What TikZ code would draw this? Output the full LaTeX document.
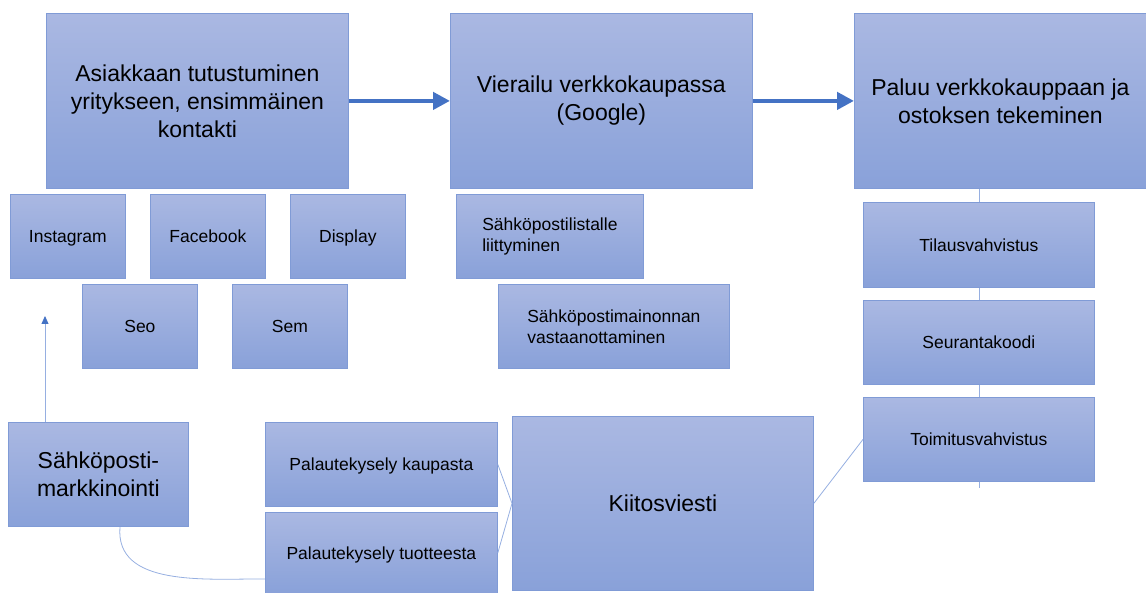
\documentclass[tikz,border=0pt]{standalone}
\usepackage{fontspec}
\setmainfont{Liberation Sans}
\usetikzlibrary{positioning,calc,arrows.meta}
\definecolor{boxtop}{RGB}{170,184,226}
\definecolor{boxbottom}{RGB}{137,161,217}
\definecolor{boxline}{RGB}{128,155,214}
\definecolor{linkblue}{RGB}{150,175,225}
\definecolor{arrowblue}{RGB}{68,114,196}

\begin{document}
\begin{tikzpicture}[x=1pt, y=-1pt,
        box/.style={draw=boxline, line width=0.8pt, top color=boxtop, bottom color=boxbottom,
            inner sep=0pt, anchor=north west, align=center},
        bigtext/.style={font=\fontsize{23}{28}\selectfont},
        smalltext/.style={font=\fontsize{17.5}{21}\selectfont},
        oneline/.style={text height=12.5pt, text depth=0pt},
        bigline/.style={text height=16.5pt, text depth=0pt},
        link/.style={draw=linkblue, line width=0.8pt},
        flow/.style={draw=arrowblue, line width=4.5pt, -{Triangle[length=17pt,width=17pt]}}]
        % Page size (1 pt = 1 px)
        \useasboundingbox (0,0) rectangle (1146,593);

        % Main steps of the customer path
        \node[box, bigtext, minimum width=302pt, minimum height=175pt] (tutustuminen) at (46,13)
            {Asiakkaan tutustuminen\\yritykseen, ensimmäinen\\kontakti};
        \node[box, bigtext, minimum width=302pt, minimum height=175pt] (vierailu) at (450,13)
            {Vierailu verkkokaupassa\\(Google)};
        \node[box, bigtext, minimum width=292pt, minimum height=175pt] (paluu) at (854,13)
            {Paluu verkkokauppaan ja\\ostoksen tekeminen};

        % Channels of the first contact
        \node[box, smalltext, oneline, minimum width=115pt, minimum height=84pt] (instagram) at (10,194) {Instagram};
        \node[box, smalltext, oneline, minimum width=115pt, minimum height=84pt] (facebook) at (150,194) {Facebook};
        \node[box, smalltext, oneline, minimum width=115pt, minimum height=84pt] (display) at (290,194) {Display};
        \node[box, smalltext, oneline, minimum width=115pt, minimum height=84pt] (seo) at (82,284) {Seo};
        \node[box, smalltext, oneline, minimum width=115pt, minimum height=84pt] (sem) at (232,284) {Sem};

        % Visit
        \node[box, smalltext, align=left, minimum width=187pt, minimum height=84pt] (liittyminen) at (456,194)
            {Sähköpostilistalle\\liittyminen};
        \node[box, smalltext, align=left, minimum width=231pt, minimum height=84pt] (mainonta) at (498,284)
            {Sähköpostimainonnan\\vastaanottaminen};

        % Purchase
        \node[box, smalltext, oneline, minimum width=231pt, minimum height=85pt] (tilaus) at (863,202) {Tilausvahvistus};
        \node[box, smalltext, oneline, minimum width=231pt, minimum height=84pt] (seuranta) at (863,300) {Seurantakoodi};
        \node[box, smalltext, oneline, minimum width=231pt, minimum height=84pt] (toimitus) at (863,397) {Toimitusvahvistus};

        % After the purchase
        \node[box, bigtext, minimum width=180pt, minimum height=104pt] (sposti) at (8,422)
            {Sähköposti-\\markkinointi};
        \node[box, smalltext, oneline, minimum width=232pt, minimum height=84pt] (kaupasta) at (265,422) {Palautekysely kaupasta};
        \node[box, smalltext, oneline, minimum width=232pt, minimum height=81pt] (tuotteesta) at (265,512) {Palautekysely tuotteesta};
        \node[box, bigtext, bigline, minimum width=301pt, minimum height=174pt] (kiitos) at (512,416) {Kiitosviesti};

        % Points used by the free ends
        \coordinate (upend) at ($(sposti.north west)+(37,-106)$);
        \coordinate (tail) at ($(toimitus.south)+(0,6)$);

        \draw[flow] (tutustuminen.east) -- (vierailu.west);
        \draw[flow] (vierailu.east) -- (paluu.west);

        \begin{scope}[link]
            \draw (tilaus.north |- paluu.south) -- (tilaus.north);
            \draw (tilaus.south) -- (seuranta.north);
            \draw (seuranta.south) -- (toimitus.north);
            \draw (toimitus.south) -- (tail);
            \draw (kiitos.east) -- (toimitus.west);
            \draw (kaupasta.east) -- (kiitos.west);
            \draw (tuotteesta.east) -- (kiitos.west);
            \draw ($(sposti.south west)+(112,0)$) to[out=-95, in=180] ($(tuotteesta.west)+(0,26)$);
            \draw[-{Triangle[length=8pt,width=7pt,color=arrowblue]}] ($(sposti.north west)+(37,0)$) -- (upend);
        \end{scope}
\end{tikzpicture}
\end{document}
